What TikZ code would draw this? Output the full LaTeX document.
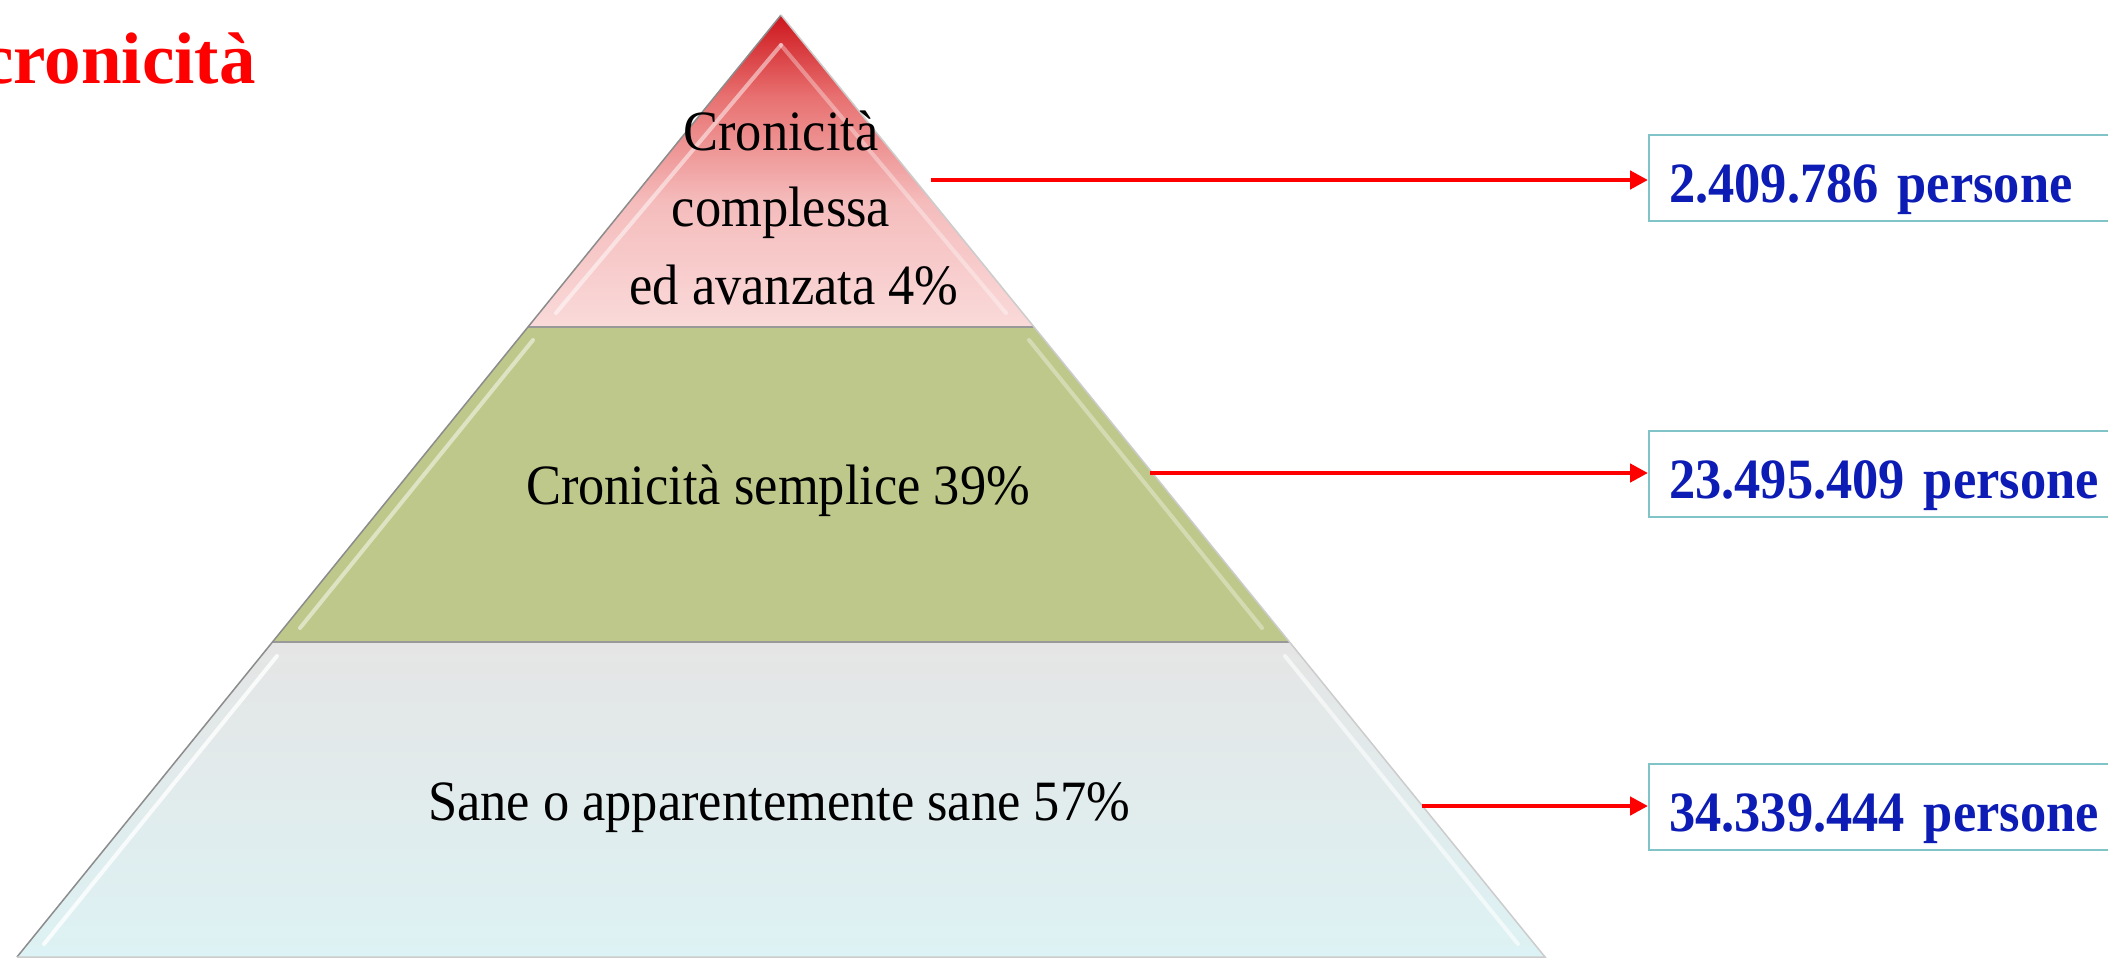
\documentclass[tikz,border=0pt]{standalone}
\usepackage{fontspec}
\setmainfont{Liberation Serif}
\newfontfamily\condserif{Liberation Serif}[FakeStretch=0.92]
\usetikzlibrary{arrows.meta}
\definecolor{redT}{RGB}{205,22,28}
\definecolor{redM}{RGB}{232,112,112}
\definecolor{pinkM}{RGB}{245,188,188}
\definecolor{pinkB}{RGB}{250,218,218}
\definecolor{greenT}{RGB}{190,200,138}
\definecolor{grayT}{RGB}{229,229,229}
\definecolor{cyanB}{RGB}{221,242,244}
\definecolor{boxteal}{RGB}{128,196,200}
\definecolor{numblue}{RGB}{12,28,180}
\pgfdeclareverticalshading{topshade}{100bp}{color(0bp)=(pinkB); color(25bp)=(pinkB); color(45bp)=(pinkM); color(62bp)=(redM); color(75bp)=(redT); color(100bp)=(redT)}
\tikzset{
  tiertext/.style={anchor=base, inner sep=0pt, text=black, font=\condserif\fontsize{57}{77}\selectfont},
  countbox/.style={anchor=west, draw=boxteal, line width=2pt, fill=white, text=numblue,
    font=\condserif\bfseries\fontsize{57}{60}\selectfont, minimum height=86pt, text width=440pt,
    inner xsep=20pt, inner ysep=0pt, align=left, text height=60pt, text depth=12pt},
  redarrow/.style={draw=red, line width=4.5pt, -{Triangle[length=18pt,width=18pt]}},
  bevelhi/.style={draw=white, opacity=0.5, line width=4pt, line cap=round},
  divider/.style={draw=black!40, line width=2pt}
}
\begin{document}
\begin{tikzpicture}[x=1pt,y=-1pt]
\useasboundingbox (0,0) rectangle (2108,959);
\clip (0,0) rectangle (2108,959);
\fill[white] (0,0) rectangle (2108,959);
% title
\node[anchor=base west, inner sep=0pt, text=red, font=\fontsize{73}{80}\selectfont\bfseries] (title) at (-19,83) {cronicità};
% pyramid geometry
\coordinate (A) at (781,15);
\coordinate (L1) at (528,327); \coordinate (R1) at (1034,327);
\coordinate (L2) at (272.5,642); \coordinate (R2) at (1289.5,642);
\coordinate (L3) at (17,957); \coordinate (R3) at (1545,957);
% tiers
\shade[shading=topshade] (A) -- (R1) -- (L1) -- cycle;
\fill[greenT] (L1) -- (R1) -- (R2) -- (L2) -- cycle;
\shade[top color=grayT, bottom color=cyanB] (L2) -- (R2) -- (R3) -- (L3) -- cycle;
% bevel highlights
\draw[bevelhi] (781,45) -- (556,313);
\draw[bevelhi, opacity=0.35] (781,45) -- (1006,313);
\draw[bevelhi] (533,340) -- (300,628);
\draw[bevelhi, opacity=0.35] (1029,340) -- (1262,628);
\draw[bevelhi, opacity=0.8] (277,656) -- (44,944);
\draw[bevelhi, opacity=0.6] (1285,656) -- (1518,944);
% dividers and outline
\draw[divider] (L1) -- (R1);
\draw[divider] (L2) -- (R2);
\draw[black!45, line width=1.5pt] (L3) -- (A);
\draw[black!20, line width=1.5pt] (A) -- (R3) -- (L3);
% tier labels
\node[tiertext] (t1a) at (781,150) {Cronicità};
\node[tiertext] (t1b) at (781,226) {complessa};
\node[tiertext] (t1c) at (794,304) {ed avanzata 4\%};
\node[tiertext] (t2) at (778,504) {Cronicità semplice 39\%};
\node[tiertext] (t3) at (779,820) {Sane o apparentemente sane 57\%};
% count boxes
\node[countbox] (b1) at (1648,178) {2.409.786 persone};
\node[countbox] (b2) at (1648,474) {23.495.409 persone};
\node[countbox] (b3) at (1648,807) {34.339.444 persone};
% arrows
\coordinate (s1) at (931,180);
\coordinate (s2) at (1150,473);
\coordinate (s3) at (1422,806);
\draw[redarrow] (s1) -- (s1 -| b1.west);
\draw[redarrow] (s2) -- (s2 -| b2.west);
\draw[redarrow] (s3) -- (s3 -| b3.west);
\end{tikzpicture}
\end{document}
